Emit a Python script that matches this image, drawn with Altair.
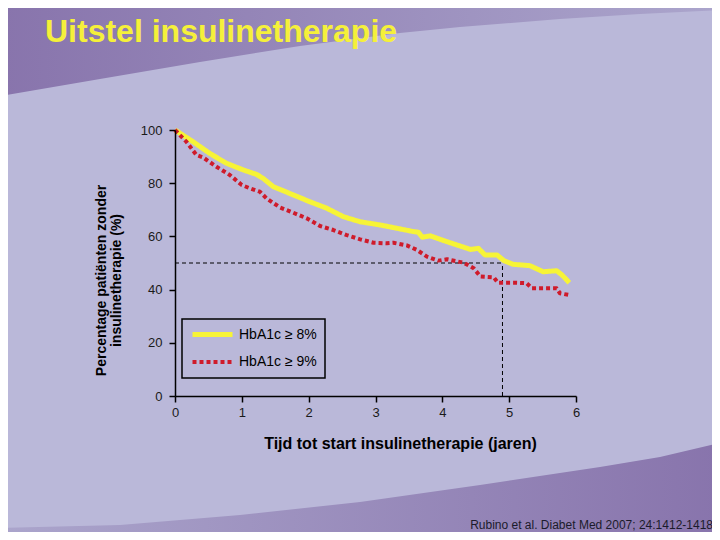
import base64
import altair as alt
import pandas as pd

# ---------------- data ----------------
groups = ["HbA1c ≥ 8%", "HbA1c ≥ 9%"]

hba1c8_years = [0, 0.27, 0.52, 0.77, 1.02, 1.22, 1.32, 1.47, 1.77, 2.02, 2.27, 2.52,
                2.77, 3.07, 3.17, 3.57, 3.64, 3.70, 3.82, 4.07, 4.42, 4.54, 4.64,
                4.82, 4.92, 5.06, 5.31, 5.51, 5.71, 5.79, 5.90]
hba1c8_pct = [100, 95.6, 91.2, 87.5, 85.0, 83.3, 81.8, 78.7, 75.6, 73.0, 70.6, 67.4,
              65.5, 64.3, 63.8, 61.8, 61.6, 59.7, 60.2, 58.0, 55.1, 55.5, 53.0,
              53.0, 50.9, 49.5, 49.0, 46.7, 47.1, 45.5, 42.6]

hba1c9_years = [0, 0.17, 0.32, 0.42, 0.62, 0.82, 1.0, 1.12, 1.27, 1.37, 1.57, 1.77,
                1.97, 2.17, 2.37, 2.57, 2.77, 2.97, 3.17, 3.27, 3.47, 3.62, 3.77,
                3.94, 4.07, 4.32, 4.47, 4.57, 4.77, 4.83, 5.06, 5.26, 5.34, 5.71,
                5.76, 5.89]
hba1c9_pct = [100, 95.6, 90.6, 89.7, 86.2, 83.1, 79.3, 78.1, 76.8, 74.3, 70.9, 68.9,
              66.8, 63.9, 62.4, 60.5, 58.9, 57.6, 57.4, 57.6, 56.6, 54.9, 52.4,
              50.9, 51.4, 50.1, 48.0, 44.9, 44.6, 42.6, 42.6, 42.4, 40.5, 40.5,
              38.6, 38.0]

median_year = 4.9
median_pct = 50

x_ticks = [0, 1, 2, 3, 4, 5, 6]
y_ticks = [0, 20, 40, 60, 80, 100]

title_text = "Uitstel insulinetherapie"
x_title = "Tijd tot start insulinetherapie (jaren)"
y_title = ["Percentage patiënten zonder", "insulinetherapie (%)"]
citation = "Rubino et al. Diabet Med 2007; 24:1412-1418"

line_colors = ["#F7F436", "#CF1B2B"]
line_dashes = [[1, 0], [4, 3]]
line_widths = [5, 4]
FONT = "Liberation Sans"

# ---------------- tables ----------------
df = pd.concat([
    pd.DataFrame({"jaren": hba1c8_years, "pct": hba1c8_pct, "groep": groups[0]}),
    pd.DataFrame({"jaren": hba1c9_years, "pct": hba1c9_pct, "groep": groups[1]}),
], ignore_index=True)

ref_df = pd.DataFrame({
    "x": [0, median_year], "x2": [median_year, median_year],
    "y": [median_pct, 0], "y2": [median_pct, median_pct],
})

# ---------------- decorative slide background ----------------
svg = (
    '<svg xmlns="http://www.w3.org/2000/svg" width="704" height="524" viewBox="8 8 704 524">'
    '<defs>'
    '<linearGradient id="gt" x1="0" y1="0" x2="1" y2="0">'
    '<stop offset="0" stop-color="#8874AC"/><stop offset="1" stop-color="#ABA5CC"/></linearGradient>'
    '<linearGradient id="gb" x1="0" y1="0" x2="1" y2="0">'
    '<stop offset="0" stop-color="#ABA5CC"/><stop offset="1" stop-color="#8874AC"/></linearGradient>'
    '</defs>'
    '<rect x="0" y="0" width="720" height="540" fill="#BAB8D9"/>'
    '<path d="M0,0 L720,0 L720,10 L640,14 L560,19 L460,27 L400,33 L300,46 L200,62 L100,79 L0,96 Z" fill="url(#gt)"/>'
    '<path d="M0,540 L0,528 L120,525 L240,515 L360,502 L480,485 L600,467 L660,457 L720,443 L720,540 Z" fill="url(#gb)"/>'
    '</svg>'
)
bg_url = "data:image/svg+xml;base64," + base64.b64encode(svg.encode("utf-8")).decode("ascii")

bg = alt.Chart(pd.DataFrame({"k": [0]})).mark_image(
    aspect=False, align="left", baseline="top", width=704, height=524
).encode(x=alt.value(-167), y=alt.value(-122), url=alt.value(bg_url))

x_scale = alt.Scale(domain=[0, 6], nice=False)
y_scale = alt.Scale(domain=[0, 100], nice=False)

x_axis = alt.Axis(
    values=x_ticks, format="d", title=x_title, titleX=225, titleY=47,
    titleBaseline="middle", titleFontSize=16, titleFontWeight="bold",
    titleColor="black", titleFont=FONT,
    labelFontSize=13, labelColor="#1a1a1a", labelFont=FONT, labelPadding=4,
    tickSize=6, tickColor="black", tickWidth=1.5, domainColor="black",
    domainWidth=1.5, grid=False, labelFlush=False, zindex=1)
y_axis = alt.Axis(
    values=y_ticks, title=y_title, titleX=-73.5, titleY=150, titleAngle=270,
    titleAlign="center", titleBaseline="middle", titleFontSize=14,
    titleLineHeight=15, titleFontWeight="bold", titleColor="black", titleFont=FONT,
    labelFontSize=13, labelColor="#1a1a1a", labelFont=FONT, labelPadding=7,
    tickSize=6, tickColor="black", tickWidth=1.5, domainColor="black",
    domainWidth=1.5, grid=False, labelFlush=False, zindex=1)

ref = alt.Chart(ref_df).mark_rule(color="black", strokeWidth=1, strokeDash=[4, 3]).encode(
    x=alt.X("x:Q", scale=x_scale, axis=x_axis),
    x2="x2:Q",
    y=alt.Y("y:Q", scale=y_scale, axis=y_axis),
    y2="y2:Q",
)

# legend symbol: a 40px horizontal stroke drawn with a custom path (size 100 -> unit = 5px)
legend = alt.Legend(
    title=None, orient="none", legendX=7, legendY=189, direction="vertical",
    symbolType="M-4,0L4,0", symbolSize=100, symbolStrokeWidth=4, symbolOffset=15,
    labelFontSize=14, labelColor="black", labelFont=FONT, labelOffset=19,
    padding=8, strokeColor="black", rowPadding=9,
)

lines = alt.Chart(df).mark_line(strokeCap="butt", strokeJoin="round").encode(
    x=alt.X("jaren:Q", scale=x_scale, axis=x_axis),
    y=alt.Y("pct:Q", scale=y_scale, axis=y_axis),
    color=alt.Color("groep:N", scale=alt.Scale(domain=groups, range=line_colors), legend=legend),
    strokeDash=alt.StrokeDash("groep:N", scale=alt.Scale(domain=groups, range=line_dashes), legend=legend),
    strokeWidth=alt.StrokeWidth("groep:N", scale=alt.Scale(domain=groups, range=line_widths), legend=None),
)

cite = alt.Chart(pd.DataFrame({"t": [citation]})).mark_text(
    align="right", baseline="middle", fontSize=12, color="#1b1b2b", font=FONT
).encode(x=alt.value(538), y=alt.value(395), text="t:N")

chart = alt.layer(bg, ref, lines, cite).properties(
    width=401, height=266,
    padding={"left": 167, "top": 122, "right": 136, "bottom": 136},
    autosize=alt.AutoSizeParams(type="none"),
    title=alt.Title(title_text, anchor="start", frame="group", dx=-130, dy=66, offset=0,
                    baseline="alphabetic", fontSize=32, font=FONT, fontWeight="bold",
                    color="#F5F03A"),
).configure(background="#BAB8D9", font=FONT).configure_view(stroke=None).configure_legend(
    strokeWidth=1.5
)

chart.save("out.html", embed_options={"renderer": "svg", "actions": False})
